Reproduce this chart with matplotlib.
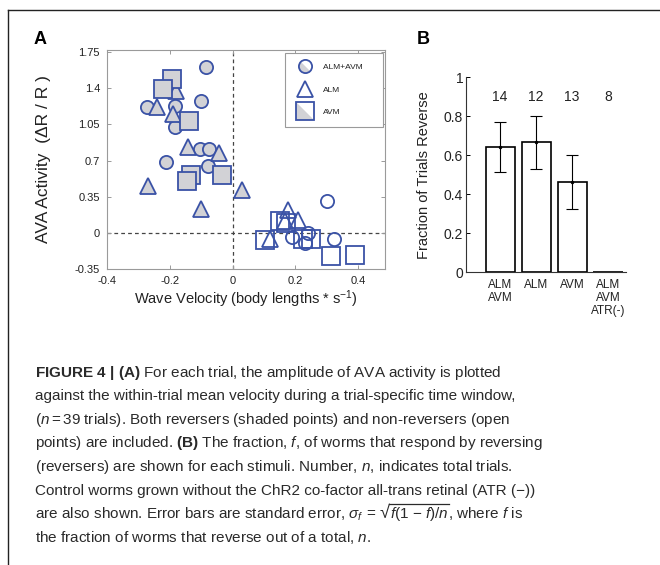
import matplotlib
matplotlib.use('Agg')
import matplotlib.pyplot as plt
from matplotlib.lines import Line2D
from matplotlib.path import Path
from matplotlib.legend_handler import HandlerTuple
import numpy as np

plt.rcParams['font.family'] = ['Liberation Sans', 'DejaVu Sans']
plt.rcParams['mathtext.fontset'] = 'custom'
plt.rcParams['mathtext.rm'] = 'Liberation Sans'
plt.rcParams['mathtext.it'] = 'Liberation Sans:italic'
plt.rcParams['mathtext.bf'] = 'Liberation Sans:bold'

# ---- panel A: AVA activity vs wave velocity ----
# ALM+AVM (circles)
circ_rev_x = [-0.084, -0.099, -0.274, -0.183, -0.183, -0.105, -0.074, -0.213, -0.078]
circ_rev_y = [1.61, 1.28, 1.215, 1.23, 1.02, 0.81, 0.81, 0.69, 0.65]
circ_non_x = [0.30, 0.191, 0.24, 0.232, 0.324]
circ_non_y = [0.305, -0.04, -0.005, -0.10, -0.06]
# ALM (triangles)
tri_rev_x = [-0.18, -0.24, -0.191, -0.142, -0.042, -0.268, -0.10, 0.029]
tri_rev_y = [1.37, 1.215, 1.15, 0.83, 0.77, 0.45, 0.235, 0.41]
tri_non_x = [0.178, 0.21, 0.168, 0.12]
tri_non_y = [0.225, 0.125, 0.115, -0.06]
# AVM (squares)
sq_rev_x = [-0.194, -0.223, -0.138, -0.133, -0.146, -0.032]
sq_rev_y = [1.49, 1.39, 1.085, 0.56, 0.50, 0.56]
sq_non_x = [0.152, 0.169, 0.104, 0.225, 0.25, 0.313, 0.39]
sq_non_y = [0.115, 0.10, -0.067, -0.06, -0.06, -0.22, -0.215]

xticks_a = [-0.4, -0.2, 0, 0.2, 0.4]
xlabels_a = ['-0.4', '-0.2', '0', '0.2', '0.4']
yticks_a = [-0.35, 0, 0.35, 0.7, 1.05, 1.4, 1.75]
ylabels_a = ['-0.35', '0', '0.35', '0.7', '1.05', '1.4', '1.75']

# ---- panel B: fraction of trials reverse ----
groups = ['ALM\nAVM', 'ALM', 'AVM', 'ALM\nAVM\nATR(-)']
fraction = [0.643, 0.667, 0.462, 0.0]
std_err = [0.128, 0.136, 0.138, 0.0]
n_trials = [14, 12, 13, 8]

blue = '#3a52a6'
gray = '#d2d2d6'
axgray = '#9a9a9a'
txt = '#222222'

W, H = 660, 565
fig = plt.figure(figsize=(6.6, 5.65), dpi=100)

# frame lines (left and top)
fig.add_artist(Line2D([7.5 / W, 7.5 / W], [0, 1 - 10 / H], color='#222222', lw=1.0))
fig.add_artist(Line2D([7.5 / W, 1], [1 - 10 / H, 1 - 10 / H], color='#222222', lw=1.0))

ax = fig.add_axes([107 / W, 1 - 269 / H, 278 / W, 219 / H])
ax.axvline(0, color='#444444', ls=(0, (3, 2.5)), lw=0.9, zorder=1)
ax.axhline(0, color='#444444', ls=(0, (3, 2.5)), lw=0.9, zorder=1)

kw = dict(ls='none', markeredgecolor=blue, markeredgewidth=1.3, zorder=3)
ax.plot(circ_non_x, circ_non_y, 'o', ms=9.5, markerfacecolor='none', **kw)
ax.plot(circ_rev_x, circ_rev_y, 'o', ms=9.5, markerfacecolor=gray, **kw)
ax.plot(tri_non_x, tri_non_y, '^', ms=12, markerfacecolor='none', **kw)
ax.plot(tri_rev_x, tri_rev_y, '^', ms=12, markerfacecolor=gray, **kw)
ax.plot(sq_non_x, sq_non_y, 's', ms=13, markerfacecolor='none', **kw)
ax.plot(sq_rev_x, sq_rev_y, 's', ms=13, markerfacecolor=gray, **kw)

ax.set_xlim(-0.4, 0.486)
ax.set_ylim(-0.35, 1.77)
ax.set_xticks(xticks_a)
ax.set_xticklabels(xlabels_a)
ax.set_yticks(yticks_a)
ax.set_yticklabels(ylabels_a)
ax.tick_params(direction='in', length=3, width=0.7, color=axgray, labelsize=8,
               labelcolor=txt, top=True, right=True, pad=5)
for s in ax.spines.values():
    s.set_color(axgray)
    s.set_linewidth(0.8)
ax.set_xlabel('Wave Velocity (body lengths * s$^{-1}$)', fontsize=10.5, color=txt, labelpad=2)
ax.set_ylabel('AVA Activity  (\u0394R / R )', fontsize=12.5, color=txt, labelpad=17)

# legend with diagonal split markers
tri_ur = Path([(-1, 1), (1, 1), (1, -1), (-1, 1)], closed=True)
ang = np.linspace(-np.pi / 4, 3 * np.pi / 4, 30)
half_circ = Path(np.column_stack([np.cos(ang), np.sin(ang)]).tolist() + [[np.cos(ang[0]), np.sin(ang[0])]], closed=True)

def mk(marker, ms, fc, ec='none', mew=0):
    return Line2D([], [], ls='none', marker=marker, ms=ms, markerfacecolor=fc,
                  markeredgecolor=ec, markeredgewidth=mew)

h_circ = (mk('o', 9.5, gray), mk(half_circ, 9.5, 'white'), mk('o', 9.5, 'none', blue, 1.3))
h_tri = mk('^', 12, 'white', blue, 1.3)
h_sq = (mk('s', 13, gray), mk(tri_ur, 13, 'white'), mk('s', 13, 'none', blue, 1.3))
leg = ax.legend([h_circ, h_tri, h_sq], ['ALM+AVM    ', 'ALM', 'AVM'],
                handler_map={tuple: HandlerTuple(ndivide=1)},
                loc='upper left', bbox_to_anchor=(178 / 278, 1 - 3 / 219), fontsize=6,
                labelspacing=1.75, handlelength=2.2, handletextpad=1.1,
                borderpad=1.25, borderaxespad=0, fancybox=False, framealpha=1)
leg.get_frame().set_edgecolor(axgray)
leg.get_frame().set_linewidth(0.8)
for t in leg.get_texts():
    t.set_color(txt)

# ---- panel B ----
bx = fig.add_axes([466 / W, 1 - 272.3 / H, 160 / W, 195 / H])
pos = np.arange(1, len(groups) + 1)
bx.bar(pos, fraction, width=0.81, color='white', edgecolor='black', linewidth=1.2, zorder=2)
show = [i for i in range(len(groups)) if fraction[i] > 0]
bx.errorbar(pos[show], np.array(fraction)[show], yerr=np.array(std_err)[show], fmt='.',
            color='black', ms=3, elinewidth=0.8, capsize=4, capthick=0.8, zorder=3)
for p, n in zip(pos, n_trials):
    bx.text(p, 0.9, str(n), ha='center', va='center', fontsize=10, color=txt)
bx.set_xlim(0.05, 4.5)
bx.set_ylim(0, 1)
bx.set_xticks(pos)
bx.set_xticklabels(groups, fontsize=8.5, color=txt, linespacing=1.12, va='top')
bx.set_yticks([0, 0.2, 0.4, 0.6, 0.8, 1])
bx.set_yticklabels(['0', '0.2', '0.4', '0.6', '0.8', '1'])
bx.tick_params(axis='y', direction='in', length=3, width=0.7, labelsize=10, labelcolor=txt, pad=2)
bx.tick_params(axis='x', length=0, pad=5)
bx.spines['top'].set_visible(False)
bx.spines['right'].set_visible(False)
bx.spines['left'].set_color('#333333')
bx.spines['bottom'].set_color('#333333')
bx.set_ylabel('Fraction of Trials Reverse', fontsize=10.5, color=txt, labelpad=9)

fig.text(40 / W, 1 - 40 / H, 'A', fontsize=13, fontweight='bold', ha='center', va='center')
fig.text(423 / W, 1 - 39 / H, 'B', fontsize=13, fontweight='bold', ha='center', va='center')

# ---- caption ----
cap_size = 11.0
cap_color = '#2a2a2a'
cap_x = 35
cap_y0 = 376.7
cap_dy = 23.57
caption = [
    r'$\mathbf{FIGURE\ 4\ |\ (A)}$ For each trial, the amplitude of AVA activity is plotted',
    'against the within-trial mean velocity during a trial-specific time window,',
    r'($n = 39$ trials). Both reversers (shaded points) and non-reversers (open',
    r'points) are included. $\mathbf{(B)}$ The fraction, $f$, of worms that respond by reversing',
    r'(reversers) are shown for each stimuli. Number, $n$, indicates total trials.',
    'Control worms grown without the ChR2 co-factor all-trans retinal (ATR (\u2212))',
    None,
    r'the fraction of worms that reverse out of a total, $n$.',
]
for i, line in enumerate(caption):
    if line is None:
        continue
    fig.text(cap_x / W, 1 - (cap_y0 + i * cap_dy) / H, line, fontsize=cap_size,
             color=cap_color, ha='left', va='baseline')

# line with the square root, drawn piece by piece so the radical stays compact
renderer = fig.canvas.get_renderer()
base_y = cap_y0 + 6 * cap_dy
space_px = 0.278 * cap_size * 100 / 72
pieces = [
    (r'are also shown. Error bars are standard error, $\sigma_f$', space_px * 0.6, cap_size),
    ('=', space_px, cap_size),
    ('\u221a', 0.3, cap_size * 1.2),
    ('$f$(1 \u2212 $f$)/$n$', 0, cap_size),
    (', where $f$ is', 0, cap_size),
]
x = cap_x
boxes = []
for s, gap, fs in pieces:
    t = fig.text(x / W, 1 - base_y / H, s, fontsize=fs, color=cap_color,
                 ha='left', va='baseline')
    bb = t.get_window_extent(renderer)
    boxes.append(bb)
    x = bb.x1 + gap
rad, inner = boxes[2], boxes[3]
top = max(rad.y1 - 0.8, inner.y1 + 1.5)
fig.add_artist(Line2D([rad.x1 - 0.6, inner.x1 + 1], [top, top], transform=None,
                      color=cap_color, lw=0.9))

fig.savefig('out.png', dpi=100, facecolor='white')
